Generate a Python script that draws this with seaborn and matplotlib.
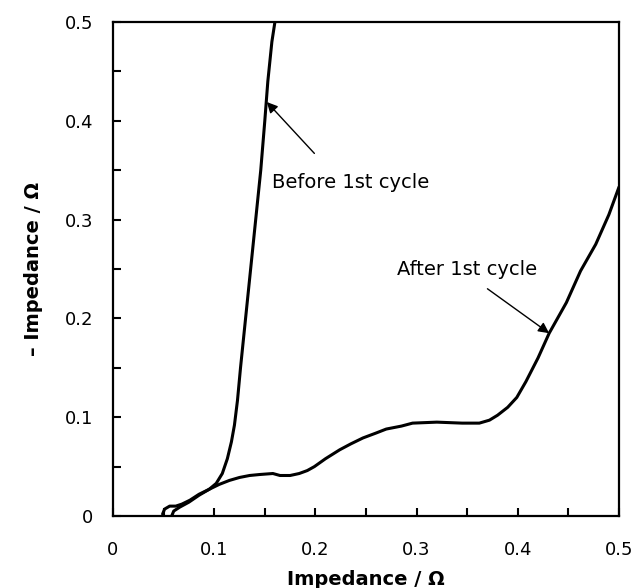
import matplotlib
matplotlib.use("Agg")
import matplotlib.pyplot as plt
from matplotlib.ticker import MultipleLocator, FuncFormatter
import seaborn as sns
import pandas as pd

# Nyquist data (real part / ohm, negative imaginary part / ohm)
before_re = [0.058, 0.060, 0.066, 0.075, 0.085, 0.095, 0.102, 0.108, 0.113, 0.117,
             0.120, 0.123, 0.126, 0.130, 0.134, 0.138, 0.142, 0.146, 0.150, 0.153,
             0.157, 0.160]
before_im = [0.000, 0.005, 0.009, 0.014, 0.021, 0.027, 0.033, 0.043, 0.058, 0.075,
             0.092, 0.117, 0.150, 0.190, 0.230, 0.270, 0.310, 0.350, 0.400, 0.440,
             0.480, 0.500]

after_re = [0.049, 0.051, 0.056, 0.062, 0.068, 0.076, 0.085, 0.095, 0.105, 0.115,
            0.125, 0.135, 0.145, 0.158, 0.165, 0.175, 0.184, 0.192, 0.199, 0.210,
            0.224, 0.235, 0.247, 0.260, 0.270, 0.285, 0.296, 0.320, 0.345, 0.362,
            0.372, 0.380, 0.390, 0.399, 0.408, 0.420, 0.431, 0.448, 0.462, 0.477,
            0.490, 0.500]
after_im = [0.002, 0.007, 0.010, 0.010, 0.012, 0.016, 0.022, 0.027, 0.032, 0.036,
            0.039, 0.041, 0.042, 0.043, 0.041, 0.041, 0.043, 0.046, 0.050, 0.058,
            0.067, 0.073, 0.079, 0.084, 0.088, 0.091, 0.094, 0.095, 0.094, 0.094,
            0.097, 0.102, 0.110, 0.120, 0.136, 0.160, 0.185, 0.216, 0.248, 0.275,
            0.305, 0.333]

curve_names = ["Before 1st cycle", "After 1st cycle"]

sns.set_style("ticks")
plt.rcParams["font.family"] = ["DejaVu Sans"]
plt.rcParams.update({
    "text.color": "black",
    "axes.labelcolor": "black",
    "xtick.color": "black",
    "ytick.color": "black",
    "axes.edgecolor": "black",
})

fig = plt.figure(figsize=(6.37, 5.88), dpi=100)
ax = fig.add_axes([113 / 637, 72 / 588, 506 / 637, 494 / 588])

df_before = pd.DataFrame({"re": before_re, "im": before_im})
df_after = pd.DataFrame({"re": after_re, "im": after_im})
for df in (df_before, df_after):
    sns.lineplot(data=df, x="re", y="im", sort=False, estimator=None,
                 color="black", linewidth=2.2, ax=ax)

ax.set_xlim(0, 0.5)
ax.set_ylim(0, 0.5)

fmt = FuncFormatter(lambda v, _: "0" if abs(v) < 1e-9 else f"{v:.1f}")
for axis in (ax.xaxis, ax.yaxis):
    axis.set_major_locator(MultipleLocator(0.1))
    axis.set_minor_locator(MultipleLocator(0.05))
    axis.set_major_formatter(fmt)

ax.tick_params(axis="both", which="both", direction="in", length=6,
               width=1.5, color="black", top=False, right=False)
ax.tick_params(axis="x", which="major", labelsize=13, pad=18, labelcolor="black")
ax.tick_params(axis="y", which="major", labelsize=13, pad=14, labelcolor="black")

for side in ax.spines.values():
    side.set_visible(True)
    side.set_linewidth(1.6)
    side.set_color("black")

ax.set_xlabel("Impedance / Ω", fontsize=14, fontweight="bold", labelpad=8,
              color="black")
ax.set_ylabel("– Impedance / Ω", fontsize=14, fontweight="bold", labelpad=16,
              color="black")

arrow = dict(arrowstyle="-|>", color="black", lw=1.0, mutation_scale=16,
             shrinkA=0, shrinkB=0)
ax.annotate("", xy=(0.152, 0.419), xytext=(0.199, 0.367), arrowprops=arrow)
ax.annotate("", xy=(0.431, 0.185), xytext=(0.370, 0.230), arrowprops=arrow)
ax.text(0.157, 0.338, curve_names[0], fontsize=14, va="center", ha="left",
        color="black")
ax.text(0.281, 0.249, curve_names[1], fontsize=14, va="center", ha="left",
        color="black")

fig.savefig("out.png", dpi=100)
